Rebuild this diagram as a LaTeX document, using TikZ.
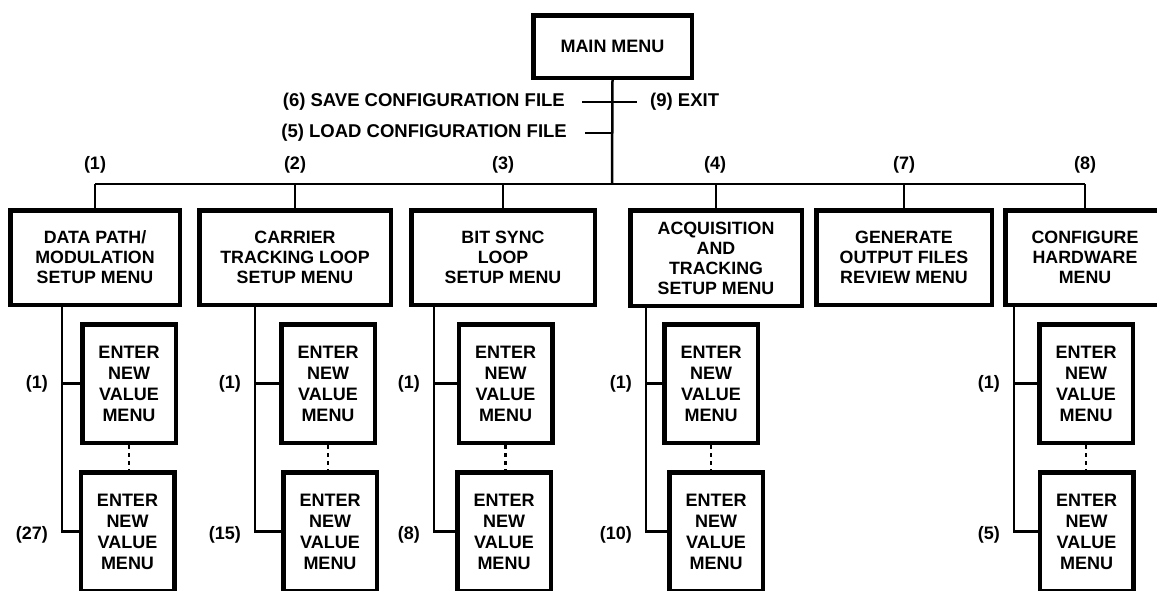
\documentclass[tikz,border=0pt]{standalone}
\usepackage{fontspec}
\setmainfont{Liberation Sans}
\begin{document}
\begin{tikzpicture}[x=1pt, y=-1pt,
    every node/.style={font=\bfseries\fontsize{18}{21}\selectfont, align=center, inner sep=0pt},
    menu/.style={draw, line width=4.5pt, minimum height=94.5pt, font=\bfseries\fontsize{17.8}{20}\selectfont},
    entry/.style={draw, line width=4.5pt, minimum width=93.5pt, minimum height=118.5pt},
    wire/.style={line width=2.5pt},
    dots/.style={line width=2.5pt, dash pattern=on 4pt off 4pt}]
    \useasboundingbox (0,0) rectangle (1157,590);
    \clip (0,0) rectangle (1157,590);
    % main menu and its own options
    \node[menu, minimum width=158.5pt, minimum height=62.5pt, font=\bfseries\fontsize{18}{21}\selectfont] (n0) at (612.5,46.5) {MAIN MENU};
    \node[anchor=east, font=\bfseries\fontsize{18.5}{21}\selectfont] (save) at (565,102) {(6) SAVE CONFIGURATION FILE};
    \node[anchor=east, font=\bfseries\fontsize{18.5}{21}\selectfont] (load) at (567,133) {(5) LOAD CONFIGURATION FILE};
    \node[anchor=west, font=\bfseries\fontsize{18.5}{21}\selectfont] (exit) at (650,102) {(9) EXIT};
    \coordinate (bus) at (612,184);
    \draw[wire] (n0.south) -- (bus);
    \draw[wire] ([xshift=17pt]save.east) -- ([xshift=-13pt]exit.west);
    \draw[wire] ([xshift=18pt]load.east) -- (load.east -| bus);
    % setup menus
    \node[menu, minimum width=169.5pt] (n1) at (95,257.5) {DATA PATH/\\MODULATION\\SETUP MENU};
    \node[menu, minimum width=191.5pt] (n2) at (295,257.5) {CARRIER\\TRACKING LOOP\\SETUP MENU};
    \node[menu, minimum width=183.5pt] (n3) at (503,257.5) {BIT SYNC\\LOOP\\SETUP MENU};
    \node[menu, minimum width=171.5pt, minimum height=95.5pt] (n4) at (716,258) {ACQUISITION\\AND\\TRACKING\\SETUP MENU};
    \node[menu, minimum width=175.5pt] (n7) at (904,257.5) {GENERATE\\OUTPUT FILES\\REVIEW MENU};
    \node[menu, minimum width=159.5pt] (n8) at (1085,257.5) {CONFIGURE\\HARDWARE\\MENU};
    \draw[wire] (n1.north |- bus) -- (n8.north |- bus);
    \draw[wire] (n1.north |- bus) -- (n1.north);
    \draw[wire] (n2.north |- bus) -- (n2.north);
    \draw[wire] (n3.north |- bus) -- (n3.north);
    \draw[wire] (n4.north |- bus) -- (n4.north);
    \draw[wire] (n7.north |- bus) -- (n7.north);
    \draw[wire] (n8.north |- bus) -- (n8.north);
    \node (k1) at (95,165) {(1)};
    \node (k2) at (295,165) {(2)};
    \node (k3) at (503,165) {(3)};
    \node (k4) at (715,165) {(4)};
    \node (k7) at (904,165) {(7)};
    \node (k8) at (1085,165) {(8)};
    % enter new value menus
    \node[entry] (v1a) at (129,383.5) {ENTER\\NEW\\VALUE\\MENU};
    \node[entry] (v1b) at (127.5,531.5) {ENTER\\NEW\\VALUE\\MENU};
    \node[entry] (v2a) at (328,383.5) {ENTER\\NEW\\VALUE\\MENU};
    \node[entry] (v2b) at (330,531.5) {ENTER\\NEW\\VALUE\\MENU};
    \node[entry] (v3a) at (505.5,383.5) {ENTER\\NEW\\VALUE\\MENU};
    \node[entry] (v3b) at (504,531.5) {ENTER\\NEW\\VALUE\\MENU};
    \node[entry] (v4a) at (711,383.5) {ENTER\\NEW\\VALUE\\MENU};
    \node[entry] (v4b) at (716,531.5) {ENTER\\NEW\\VALUE\\MENU};
    \node[entry] (v8a) at (1086,383.5) {ENTER\\NEW\\VALUE\\MENU};
    \node[entry] (v8b) at (1086.5,531.5) {ENTER\\NEW\\VALUE\\MENU};
    \coordinate (t1) at (62,0);
    \coordinate (t2) at (255,0);
    \coordinate (t3) at (434,0);
    \coordinate (t4) at (646,0);
    \coordinate (t8) at (1014,0);
    \draw[wire] (t1 |- n1.south) |- (v1b.west);
    \draw[wire] (t1 |- v1a.west) -- (v1a.west);
    \draw[wire] (t2 |- n2.south) |- (v2b.west);
    \draw[wire] (t2 |- v2a.west) -- (v2a.west);
    \draw[wire] (t3 |- n3.south) |- (v3b.west);
    \draw[wire] (t3 |- v3a.west) -- (v3a.west);
    \draw[wire] (t4 |- n4.south) |- (v4b.west);
    \draw[wire] (t4 |- v4a.west) -- (v4a.west);
    \draw[wire] (t8 |- n8.south) |- (v8b.west);
    \draw[wire] (t8 |- v8a.west) -- (v8a.west);
    \draw[dots] (v1a.south) -- (v1a.south |- v1b.north);
    \draw[dots] (v2a.south) -- (v2a.south |- v2b.north);
    \draw[dots] (v3a.south) -- (v3a.south |- v3b.north);
    \draw[dots] (v4a.south) -- (v4a.south |- v4b.north);
    \draw[dots] (v8a.south) -- (v8a.south |- v8b.north);
    \node[anchor=east] (m1a) at ([xshift=-14pt]t1 |- v1a.west) {(1)};
    \node[anchor=east] (m1b) at ([xshift=-14pt,yshift=-3pt]t1 |- v1b.west) {(27)};
    \node[anchor=east] (m2a) at ([xshift=-14pt]t2 |- v2a.west) {(1)};
    \node[anchor=east] (m2b) at ([xshift=-14pt,yshift=-3pt]t2 |- v2b.west) {(15)};
    \node[anchor=east] (m3a) at ([xshift=-14pt]t3 |- v3a.west) {(1)};
    \node[anchor=east] (m3b) at ([xshift=-14pt,yshift=-3pt]t3 |- v3b.west) {(8)};
    \node[anchor=east] (m4a) at ([xshift=-14pt]t4 |- v4a.west) {(1)};
    \node[anchor=east] (m4b) at ([xshift=-14pt,yshift=-3pt]t4 |- v4b.west) {(10)};
    \node[anchor=east] (m8a) at ([xshift=-14pt]t8 |- v8a.west) {(1)};
    \node[anchor=east] (m8b) at ([xshift=-14pt,yshift=-3pt]t8 |- v8b.west) {(5)};
\end{tikzpicture}
\end{document}
